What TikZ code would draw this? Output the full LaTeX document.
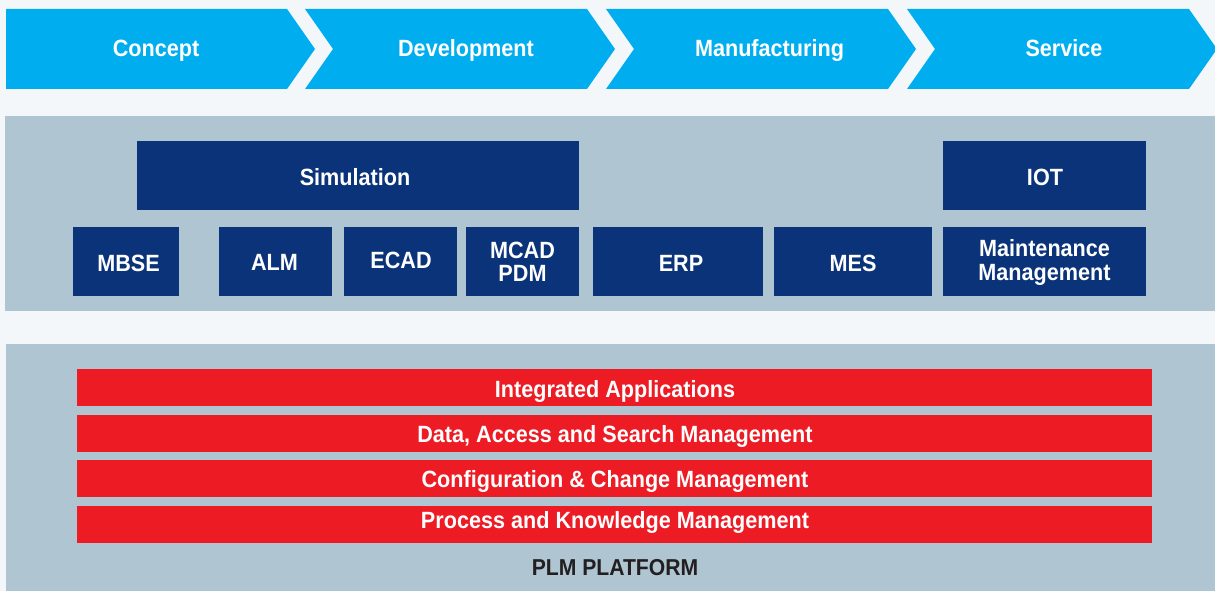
\documentclass[tikz,border=0pt]{standalone}
\usepackage{fontspec}
\setmainfont{Liberation Sans}[FakeStretch=0.92]
\definecolor{bg}{HTML}{F3F7FA}
\definecolor{chevblue}{HTML}{00AEEF}
\definecolor{panel}{HTML}{AFC5D2}
\definecolor{navy}{HTML}{0A337A}
\definecolor{redbar}{HTML}{ED1C24}
\definecolor{darktext}{HTML}{231F20}
\begin{document}
\begin{tikzpicture}[x=1pt,y=-1pt,
  chev/.style={fill=chevblue,draw=none},
  panelbox/.style={fill=panel,draw=none},
  bluebox/.style={fill=navy,draw=none,inner sep=0pt,minimum height=69pt},
  redbox/.style={fill=redbar,draw=none,inner sep=0pt,
    minimum width=1075pt,minimum height=37pt},
  lbl/.style={text=white,anchor=base,inner sep=0pt,
    font=\fontsize{23.5}{25}\selectfont\bfseries},
  darklbl/.style={lbl,text=darktext,font=\fontsize{23}{25}\selectfont\bfseries}
]
\useasboundingbox (0,0) rectangle (1215,591);
\fill[bg] (0,0) rectangle (1215,591);

% chevrons
\fill[chev] (6,9) -- (287,9) -- (315,49) -- (287,89) -- (6,89) -- cycle;
\fill[chev] (305,9) -- (587,9) -- (615,49) -- (587,89) -- (305,89) -- (333,49) -- cycle;
\fill[chev] (606,9) -- (888,9) -- (916,49) -- (888,89) -- (606,89) -- (634,49) -- cycle;
\fill[chev] (907,9) -- (1189,9) -- (1217,49) -- (1189,89) -- (907,89) -- (935,49) -- cycle;
\node[lbl] (concept) at (156,57) {Concept};
\node[lbl] (development) at (466,57) {Development};
\node[lbl] (manufacturing) at (769.5,57) {Manufacturing};
\node[lbl] (service) at (1064,57) {Service};

% middle panel
\fill[panelbox] (5,116) rectangle (1215,311);
\node[bluebox,minimum width=442pt] (sim) at (358,175.5) {};
\node[bluebox,minimum width=203pt] (iot) at (1044.5,175.5) {};
\node[bluebox,minimum width=106pt] (mbse) at (126,261.5) {};
\node[bluebox,minimum width=113pt] (alm) at (275.5,261.5) {};
\node[bluebox,minimum width=113pt] (ecad) at (400.5,261.5) {};
\node[bluebox,minimum width=113pt] (mcad) at (522.5,261.5) {};
\node[bluebox,minimum width=170pt] (erp) at (678,261.5) {};
\node[bluebox,minimum width=158pt] (mes) at (853,261.5) {};
\node[bluebox,minimum width=203pt] (maint) at (1044.5,261.5) {};

\node[lbl] (simT) at (355,185.5) {Simulation};
\node[lbl] (iotT) at (1045,185.5) {IOT};
\node[lbl] (mbseT) at (128.5,271.5) {MBSE};
\node[lbl] (almT) at (274.5,270.5) {ALM};
\node[lbl] (ecadT) at (401,268.3) {ECAD};
\node[lbl] (mcadT) at (522.5,258.3) {MCAD};
\node[lbl] (pdmT) at (522.5,281.7) {PDM};
\node[lbl] (erpT) at (681,271.7) {ERP};
\node[lbl] (mesT) at (853,271.7) {MES};
\node[lbl] (maintT) at (1044.5,256.7) {Maintenance};
\node[lbl] (mgmtT) at (1044.5,280.7) {Management};

% bottom panel
\fill[panelbox] (6,344) rectangle (1215,591);
\node[redbox] (ia) at (614.5,387.5) {};
\node[redbox] (dasm) at (614.5,433.5) {};
\node[redbox] (ccm) at (614.5,478.5) {};
\node[redbox] (pkm) at (614.5,524.5) {};
\node[lbl] (iaT) at (615,397) {Integrated Applications};
\node[lbl] (dasmT) at (615,442) {Data, Access and Search Management};
\node[lbl] (ccmT) at (615,487) {Configuration \& Change Management};
\node[lbl] (pkmT) at (615,528.5) {Process and Knowledge Management};
\node[darklbl] (plm) at (615,575.7) {PLM PLATFORM};
\end{tikzpicture}
\end{document}
